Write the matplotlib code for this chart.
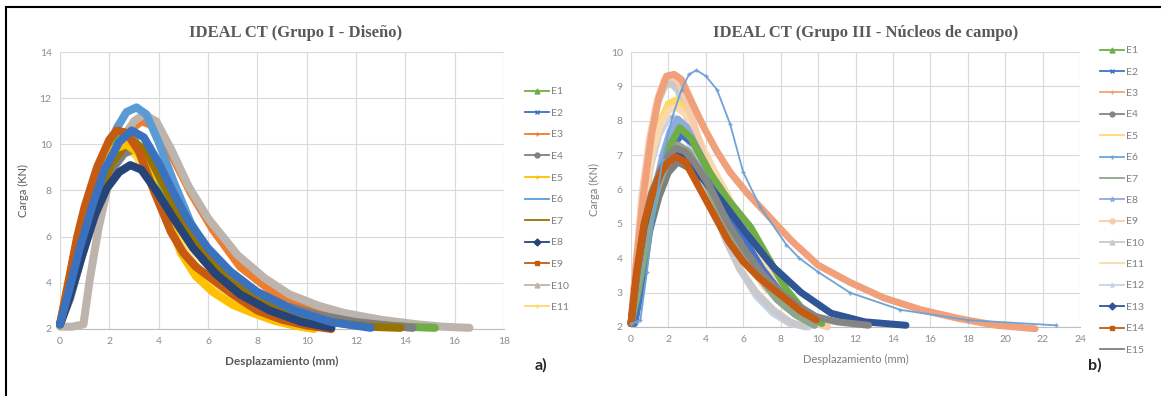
import matplotlib
matplotlib.use("Agg")
import matplotlib.pyplot as plt
from matplotlib.lines import Line2D

plt.rcParams['font.family'] = ['Lato', 'DejaVu Sans']

# ---- Grupo I - Diseño (panel a) ----
g1_names = ["E1", "E2", "E3", "E4", "E5", "E6", "E7", "E8", "E9", "E10", "E11"]
g1_x = {
    "E1": [0, 0.3, 0.7, 1.2, 1.7, 2.2, 2.6, 3.0, 3.6, 4.3, 5.0, 5.8, 6.8, 8.0, 9.5, 11.0, 12.5, 14.0, 15.2],
    "E2": [0, 0.3, 0.8, 1.3, 1.8, 2.4, 2.9, 3.4, 4.0, 4.6, 5.2, 6.0, 6.9, 8.0, 9.5, 11.0, 12.6],
    "E3": [0, 0.4, 0.9, 1.5, 2.1, 2.7, 3.3, 3.8, 4.5, 5.3, 6.2, 7.3, 8.5, 10.0, 11.5, 13.0, 14.2],
    "E4": [0, 0.4, 0.9, 1.5, 2.1, 2.6, 3.0, 3.5, 4.2, 5.0, 6.0, 7.0, 8.0, 9.2, 10.5, 12.0, 13.3, 14.3],
    "E5": [0, 0.3, 0.7, 1.2, 1.7, 2.2, 2.7, 3.2, 3.7, 4.3, 4.9, 5.5, 6.2, 7.0, 7.8, 8.7, 9.5, 10.3],
    "E6": [0, 0.3, 0.8, 1.3, 1.8, 2.3, 2.7, 3.1, 3.5, 4.0, 4.6, 5.3, 6.2, 7.2, 8.5, 10.0, 11.0],
    "E7": [0, 0.4, 0.9, 1.5, 2.1, 2.6, 3.0, 3.5, 4.2, 5.0, 5.8, 6.8, 8.0, 9.5, 11.0, 12.5, 13.8],
    "E8": [0, 0.4, 0.9, 1.4, 1.9, 2.4, 2.85, 3.3, 3.9, 4.6, 5.4, 6.3, 7.3, 8.5, 9.8, 11.0],
    "E9": [0, 0.3, 0.7, 1.0, 1.5, 2.0, 2.3, 2.7, 3.2, 3.8, 4.5, 5.0, 5.5, 6.0, 7.0, 8.0, 9.0, 10.0, 11.0],
    "E10": [0, 0.5, 0.95, 1.2, 1.55, 2.0, 2.5, 3.0, 3.4, 3.9, 4.5, 5.2, 6.0, 7.2, 8.3, 9.3, 10.5, 11.5, 13.0, 14.5, 15.5, 16.6],
    "E11": [0, 0.3, 0.7, 1.2, 1.7, 2.2, 2.6, 3.1, 3.7, 4.4, 5.1, 5.9, 6.8, 7.8, 9.0, 10.0],
}
g1_y = {
    "E1": [2.2, 3.6, 5.6, 7.6, 9.1, 10.1, 10.4, 10.2, 9.2, 7.7, 6.3, 5.0, 3.9, 3.1, 2.6, 2.35, 2.2, 2.1, 2.05],
    "E2": [2.2, 3.4, 5.5, 7.3, 8.9, 10.1, 10.6, 10.3, 9.2, 7.9, 6.7, 5.5, 4.5, 3.6, 2.8, 2.3, 2.05],
    "E3": [2.2, 3.4, 5.4, 7.5, 9.3, 10.5, 11.0, 10.8, 9.6, 7.9, 6.3, 4.7, 3.7, 3.0, 2.55, 2.25, 2.1],
    "E4": [2.2, 3.3, 5.2, 7.2, 8.9, 9.6, 9.8, 9.5, 8.5, 7.0, 5.4, 4.3, 3.6, 3.0, 2.6, 2.3, 2.15, 2.05],
    "E5": [2.2, 3.8, 5.9, 7.8, 9.1, 9.8, 10.0, 9.6, 8.5, 7.0, 5.3, 4.3, 3.6, 3.05, 2.7, 2.35, 2.15, 2.0],
    "E6": [2.2, 3.5, 5.7, 7.6, 9.3, 10.7, 11.4, 11.6, 11.3, 10.1, 8.4, 6.6, 5.0, 3.9, 3.0, 2.4, 2.1],
    "E7": [2.2, 3.5, 5.5, 7.6, 9.2, 9.9, 10.1, 9.7, 8.3, 6.6, 5.3, 4.1, 3.2, 2.6, 2.3, 2.1, 2.05],
    "E8": [2.2, 3.4, 5.2, 6.9, 8.1, 8.8, 9.1, 8.9, 8.0, 6.8, 5.5, 4.4, 3.5, 2.8, 2.3, 2.05],
    "E9": [2.2, 3.8, 6.0, 7.3, 9.0, 10.2, 10.6, 10.5, 9.7, 8.0, 6.2, 5.3, 4.7, 4.3, 3.5, 2.8, 2.4, 2.15, 2.0],
    "E10": [2.1, 2.1, 2.2, 4.1, 6.3, 8.5, 10.2, 11.0, 11.3, 11.0, 9.8, 8.2, 6.8, 5.2, 4.2, 3.5, 3.0, 2.7, 2.4, 2.2, 2.1, 2.05],
    "E11": [2.2, 3.7, 5.8, 7.7, 9.0, 9.7, 9.9, 9.5, 8.3, 6.7, 5.3, 4.2, 3.4, 2.8, 2.3, 2.05],
}
g1_colors = {"E1": "#70AD47", "E2": "#3A72C0", "E3": "#ED7D31", "E4": "#7F7F7F",
             "E5": "#FFC000", "E6": "#5B9BD5", "E7": "#997300", "E8": "#264478",
             "E9": "#C55A11", "E10": "#BDB5AD", "E11": "#FFD966"}
g1_markers = {"E1": "^", "E2": "x", "E3": "+", "E4": "o", "E5": "+", "E6": "",
              "E7": "", "E8": "D", "E9": "s", "E10": "^", "E11": "+"}
g1_order = ["E3", "E10", "E6", "E1", "E11", "E4", "E7", "E5", "E9", "E8", "E2"]

# ---- Grupo III - Núcleos de campo (panel b) ----
g3_names = ["E%d" % i for i in range(1, 16)]
g3_x = {
    "E1": [0, 0.3, 0.7, 1.1, 1.5, 2.0, 2.6, 3.2, 4.2, 5.2, 6.4, 7.4, 8.3, 9.2, 10.2],
    "E2": [0.2, 0.6, 1.0, 1.5, 2.0, 2.7, 3.4, 4.2, 5.0, 6.0, 7.0, 8.0, 9.0, 10.0],
    "E3": [0, 0.3, 0.7, 1.1, 1.5, 1.9, 2.3, 2.7, 3.2, 3.9, 4.6, 5.3, 6.2, 7.4, 8.6, 10.0, 11.7, 13.5, 15.5, 17.5, 19.5, 21.6],
    "E4": [0, 0.3, 0.7, 1.1, 1.6, 2.0, 2.4, 2.9, 3.5, 4.2, 5.2, 6.2, 7.1, 8.0, 9.0, 9.9, 11.0, 12.7],
    "E5": [0, 0.3, 0.7, 1.1, 1.6, 2.0, 2.4, 2.9, 3.6, 4.4, 5.3, 6.3, 7.4, 8.6, 10.0],
    "E6": [0, 0.3, 0.5, 0.85, 1.2, 1.7, 2.2, 2.7, 3.1, 3.5, 4.0, 4.6, 5.3, 6.0, 6.9, 8.3, 9.0, 10.0, 11.7, 14.4, 18.0, 22.7],
    "E7": [0, 0.4, 0.9, 1.4, 2.0, 2.5, 3.1, 3.9, 4.8, 5.8, 6.8, 7.8, 8.8, 9.8],
    "E8": [0.1, 0.4, 0.8, 1.2, 1.7, 2.1, 2.5, 3.0, 3.7, 4.5, 5.3, 6.1, 6.9, 7.8, 8.8, 9.8],
    "E9": [0, 0.3, 0.6, 1.0, 1.4, 1.8, 2.2, 2.6, 3.1, 3.7, 4.4, 5.2, 6.1, 7.1, 8.2, 9.3, 10.5],
    "E10": [0, 0.3, 0.6, 1.0, 1.4, 1.8, 2.1, 2.5, 3.0, 3.6, 4.2, 5.0, 5.8, 6.7, 7.6, 8.5, 9.3],
    "E11": [0, 0.3, 0.7, 1.1, 1.5, 2.0, 2.4, 2.9, 3.5, 4.3, 5.2, 6.2, 7.2, 8.3, 9.3, 10.5],
    "E12": [0, 0.3, 0.7, 1.1, 1.5, 1.9, 2.3, 2.8, 3.4, 4.1, 4.9, 5.8, 6.7, 7.6, 8.5, 9.5],
    "E13": [0, 0.3, 0.7, 1.1, 1.6, 2.0, 2.5, 3.0, 3.7, 4.8, 6.2, 7.6, 9.1, 10.7, 12.5, 14.7],
    "E14": [0, 0.3, 0.7, 1.1, 1.6, 2.0, 2.4, 2.9, 3.8, 4.5, 5.2, 6.0, 6.8, 7.6, 8.3, 9.1, 9.9],
    "E15": [0, 0.4, 0.9, 1.5, 2.0, 2.5, 3.2, 4.2, 5.5, 7.0, 8.5, 9.8],
}
g3_y = {
    "E1": [2.1, 2.8, 4.0, 5.2, 6.2, 7.2, 7.8, 7.5, 6.5, 5.7, 4.9, 3.95, 3.1, 2.5, 2.1],
    "E2": [2.1, 3.3, 4.8, 6.2, 7.1, 7.6, 7.3, 6.5, 5.6, 4.6, 3.7, 3.0, 2.5, 2.15],
    "E3": [2.1, 3.9, 6.0, 7.6, 8.7, 9.3, 9.35, 9.2, 8.6, 7.8, 7.1, 6.5, 5.9, 5.2, 4.5, 3.8, 3.3, 2.85, 2.5, 2.25, 2.05, 1.95],
    "E4": [2.1, 3.5, 5.0, 5.9, 6.6, 7.0, 7.2, 7.1, 6.7, 6.1, 5.0, 4.15, 3.5, 3.0, 2.6, 2.3, 2.15, 2.05],
    "E5": [2.1, 3.6, 5.6, 7.0, 8.0, 8.5, 8.6, 8.3, 7.5, 6.4, 5.3, 4.3, 3.4, 2.7, 2.1],
    "E6": [2.1, 2.15, 2.2, 3.6, 5.2, 6.9, 8.1, 8.9, 9.35, 9.47, 9.3, 8.9, 7.9, 6.5, 5.5, 4.4, 4.0, 3.6, 3.0, 2.5, 2.2, 2.05],
    "E7": [2.1, 3.2, 4.8, 6.0, 6.9, 7.3, 7.1, 6.3, 5.3, 4.3, 3.5, 2.8, 2.35, 2.05],
    "E8": [2.1, 3.0, 4.5, 5.8, 7.0, 7.7, 8.05, 7.8, 7.0, 6.0, 5.2, 4.5, 3.7, 3.0, 2.4, 2.05],
    "E9": [2.1, 4.0, 5.9, 7.5, 8.6, 9.2, 9.3, 9.1, 8.4, 7.3, 6.1, 5.0, 4.0, 3.2, 2.6, 2.2, 2.0],
    "E10": [2.1, 4.0, 5.8, 7.4, 8.5, 9.0, 9.1, 8.9, 8.1, 6.9, 5.8, 4.6, 3.7, 3.0, 2.5, 2.15, 2.0],
    "E11": [2.1, 3.8, 5.7, 7.0, 7.8, 8.3, 8.4, 8.2, 7.6, 6.7, 5.8, 4.6, 3.7, 2.9, 2.4, 2.05],
    "E12": [2.1, 3.7, 5.5, 6.8, 7.6, 8.0, 8.1, 7.8, 7.0, 5.9, 4.8, 3.7, 2.9, 2.4, 2.1, 2.0],
    "E13": [2.1, 3.5, 4.9, 5.8, 6.5, 6.85, 7.0, 6.9, 6.4, 5.7, 4.7, 3.75, 3.0, 2.4, 2.15, 2.05],
    "E14": [2.1, 3.6, 5.0, 5.8, 6.5, 6.8, 6.95, 6.8, 5.9, 5.2, 4.5, 3.9, 3.45, 3.1, 2.8, 2.45, 2.2],
    "E15": [2.1, 3.2, 4.6, 5.8, 6.5, 6.8, 6.6, 5.8, 4.6, 3.4, 2.6, 2.1],
}
g3_colors = {"E1": "#70AD47", "E2": "#4472C4", "E3": "#F1A07C", "E4": "#858585",
             "E5": "#FFD966", "E6": "#6FA3D8", "E7": "#8FA68A", "E8": "#8FAADC",
             "E9": "#F8CBAD", "E10": "#C9C9C9", "E11": "#FAD9AE", "E12": "#C5D3EA",
             "E13": "#2F5597", "E14": "#C55A11", "E15": "#7F7F7F"}
g3_markers = {"E1": "^", "E2": "x", "E3": "+", "E4": "o", "E5": "", "E6": "+",
              "E7": "", "E8": "*", "E9": "o", "E10": "^", "E11": "", "E12": "*",
              "E13": "D", "E14": "s", "E15": ""}
g3_order = ["E15", "E12", "E10", "E5", "E11", "E9", "E3", "E8", "E2", "E1",
            "E7", "E13", "E4", "E14", "E6"]

W, H = 1161, 396
fig = plt.figure(figsize=(W / 100, H / 100), dpi=100)

tick_color = "#8C8C8C"
grid_color = "#D9D9D9"


def box(l, t, r, b):
    return [l / W, 1 - b / H, (r - l) / W, (b - t) / H]


def style_axes(ax, xmax, ymax, ystep):
    ax.set_xlim(0, xmax)
    ax.set_ylim(2, ymax)
    ax.set_xticks(range(0, xmax + 1, 2))
    ax.set_yticks(range(2, ymax + 1, ystep))
    ax.grid(True, color=grid_color, lw=0.8)
    ax.set_axisbelow(True)
    for s in ["top", "right", "left"]:
        ax.spines[s].set_visible(False)
    ax.spines["bottom"].set_color("#BFBFBF")
    ax.tick_params(length=0, labelsize=7.5, labelcolor=tick_color, pad=6)


def draw_curves(ax, order, xs, ys, colors, thin, lw):
    for z, name in enumerate(order):
        if name in thin:
            ax.plot(xs[name], ys[name], color=colors[name], lw=1.3, marker="+",
                    ms=3, zorder=3 + z, clip_on=False)
        else:
            ax.plot(xs[name], ys[name], color=colors[name], lw=lw,
                    solid_capstyle="round", solid_joinstyle="round",
                    zorder=3 + z, clip_on=False)


def add_legend(names, colors, markers, x0, y0, spacing):
    handles = [Line2D([], [], color=colors[n], lw=1.3, marker=markers[n] or None,
                      ms=3.5, markeredgewidth=1) for n in names]
    fig.legend(handles, names, loc="upper left",
               bbox_to_anchor=(x0 / W, 1 - y0 / H), frameon=False,
               fontsize=7.5, labelcolor="#7F7F7F", handlelength=2.3,
               handletextpad=0.15, labelspacing=spacing, borderpad=0,
               borderaxespad=0)


# panel a
ax1 = fig.add_axes(box(60, 52, 504, 329))
style_axes(ax1, 18, 14, 2)
draw_curves(ax1, g1_order, g1_x, g1_y, g1_colors, [], 5.8)
ax1.set_xlabel("Desplazamiento (mm)", fontsize=8.5, color="#595959",
               fontweight="bold", labelpad=7)
ax1.set_ylabel("Carga (KN)", fontsize=8, color="#595959", labelpad=8)
fig.text(296 / W, 1 - 33 / H, "IDEAL CT (Grupo I - Diseño)", ha="center",
         va="center", fontsize=12, fontweight="bold", color="#595959",
         family="Liberation Serif")
add_legend(g1_names, g1_colors, g1_markers, 525, 87, 1.18)
fig.text(541 / W, 1 - 365 / H, "a)", ha="center", va="center", fontsize=11.5,
         fontweight="bold", color="#262626")

# panel b
ax2 = fig.add_axes(box(631, 52, 1080, 327))
style_axes(ax2, 24, 10, 1)
draw_curves(ax2, g3_order, g3_x, g3_y, g3_colors, ["E6"], 5)
ax2.set_xlabel("Desplazamiento (mm)", fontsize=8, color="#7F7F7F", labelpad=7)
ax2.set_ylabel("Carga (KN)", fontsize=8, color="#7F7F7F", labelpad=8)
fig.text(866 / W, 1 - 33 / H, "IDEAL CT (Grupo III - Núcleos de campo)",
         ha="center", va="center", fontsize=12, fontweight="bold",
         color="#595959", family="Liberation Serif")
add_legend(g3_names, g3_colors, g3_markers, 1100, 46, 1.16)
fig.text(1095 / W, 1 - 365 / H, "b)", ha="center", va="center", fontsize=11.5,
         fontweight="bold", color="#262626")

# outer frame (top and left edges visible in the source)
fig.add_artist(Line2D([6 / W, 6 / W], [0, 1 - 7 / H], color="black", lw=1.5))
fig.add_artist(Line2D([6 / W, 1], [1 - 7 / H, 1 - 7 / H], color="black", lw=1.5))

fig.savefig("out.png", dpi=100)
